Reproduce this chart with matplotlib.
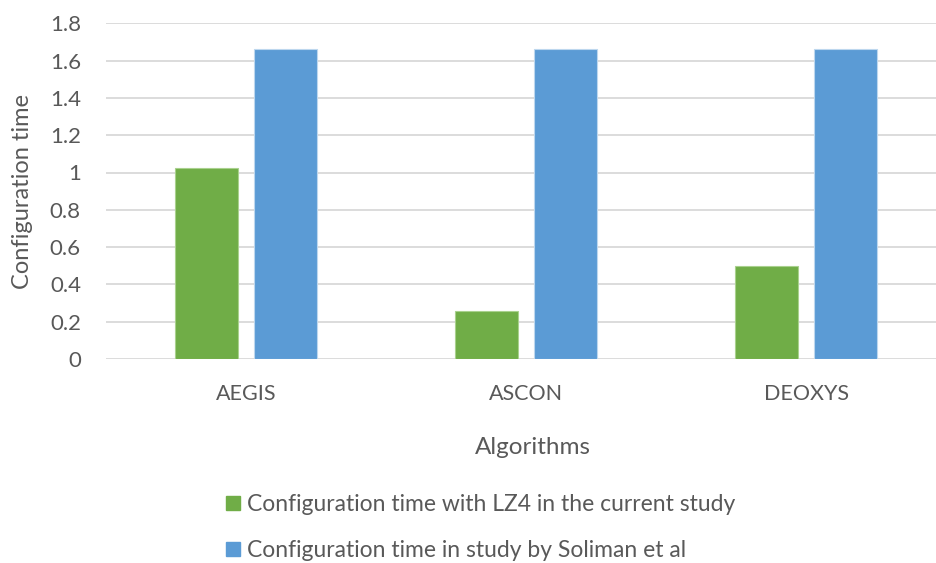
import matplotlib
matplotlib.use("Agg")
import matplotlib.pyplot as plt
from matplotlib.patches import Patch

algorithms = ["AEGIS", "ASCON", "DEOXYS"]
lz4_current = [1.026, 0.257, 0.496]
soliman = [1.66, 1.66, 1.66]
series_names = ["Configuration time with LZ4 in the current study",
                "Configuration time in study by Soliman et al"]
y_ticks = [0, 0.2, 0.4, 0.6, 0.8, 1, 1.2, 1.4, 1.6, 1.8]
y_tick_labels = ["0", "0.2", "0.4", "0.6", "0.8", "1", "1.2", "1.4", "1.6", "1.8"]

GREEN = "#70AD47"
BLUE = "#5B9BD5"
TEXT = "#595959"
GRID = "#D9D9D9"

plt.rcParams["font.family"] = ["Lato", "DejaVu Sans"]

W, H = 937, 563
fig = plt.figure(figsize=(W / 100, H / 100), dpi=100)
left, right, top, bottom = 106, 946, 23.3, 359
ax = fig.add_axes([left / W, 1 - bottom / H, (right - left) / W, (bottom - top) / H])

x = list(range(len(algorithms)))
width = 0.225
off = 0.142
ax.bar([i - off for i in x], lz4_current, width, color=GREEN,
       edgecolor="#A9D18E", linewidth=0.8, zorder=3)
ax.bar([i + off for i in x], soliman, width, color=BLUE,
       edgecolor="#BDD7EE", linewidth=0.8, zorder=3)

ax.set_xlim(-0.5, 2.5)
ax.set_ylim(0, 1.8)
ax.set_yticks(y_ticks)
ax.set_yticklabels(y_tick_labels)
ax.set_xticks(x)
ax.set_xticklabels(algorithms)
ax.yaxis.grid(True, color=GRID, linewidth=1.3, zorder=0)
ax.set_axisbelow(True)
for s in ax.spines.values():
    s.set_visible(False)
ax.tick_params(axis="y", length=0, pad=18, labelsize=16, labelcolor=TEXT)
ax.tick_params(axis="x", length=0, pad=18, labelsize=15.5, labelcolor=TEXT)

ax.set_ylabel("Configuration time", fontsize=17, color=TEXT, labelpad=12)
fig.text(533 / W, 1 - 447 / H, "Algorithms", fontsize=17.5, color=TEXT,
         ha="center", va="center")

handles = [Patch(facecolor=GREEN, edgecolor=GREEN), Patch(facecolor=BLUE, edgecolor=BLUE)]
fig.legend(handles, series_names, loc="upper left",
           bbox_to_anchor=(226 / W, 1 - 494 / H), frameon=False,
           fontsize=16.5, labelcolor=TEXT, handlelength=0.6, handleheight=0.6,
           handletextpad=0.3, labelspacing=1.1, borderaxespad=0, borderpad=0)

fig.savefig("out.png", dpi=100, facecolor="white")
